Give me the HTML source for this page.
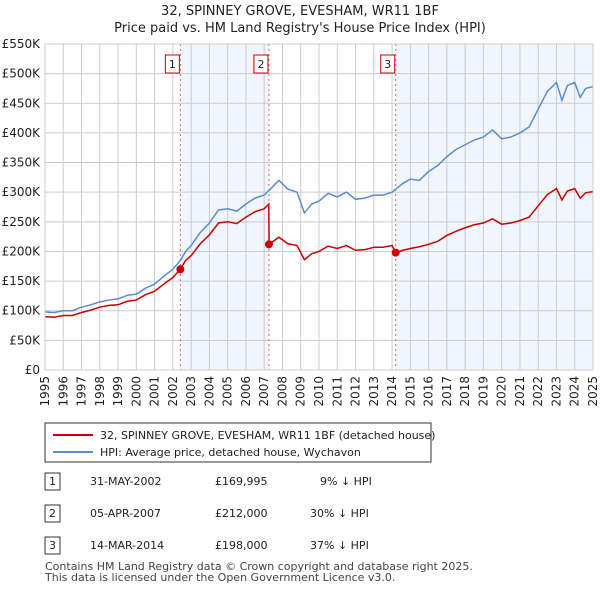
<!DOCTYPE html>
<html><head><meta charset="utf-8"><style>
body{margin:0;background:#fff;font-family:"Liberation Sans",sans-serif;}
svg text{font-family:"DejaVu Sans","Liberation Sans",sans-serif;}
</style></head><body>
<svg id="c" width="600" height="590" xmlns="http://www.w3.org/2000/svg">
<text x="300" y="15" text-anchor="middle" font-size="13" fill="#222">32, SPINNEY GROVE, EVESHAM, WR11 1BF</text>
<text x="300" y="32" text-anchor="middle" font-size="13" fill="#222">Price paid vs. HM Land Registry's House Price Index (HPI)</text>
<g id="plot"></g>
<g>
<rect x="45" y="423" width="386" height="39" fill="#fff" stroke="#333" stroke-width="1"/>
<line x1="53" y1="435" x2="93" y2="435" stroke="#cc0000" stroke-width="2"/>
<text x="100" y="439" font-size="11" fill="#222">32, SPINNEY GROVE, EVESHAM, WR11 1BF (detached house)</text>
<line x1="53" y1="452" x2="93" y2="452" stroke="#5b8bd0" stroke-width="2"/>
<text x="100" y="456" font-size="11" fill="#222">HPI: Average price, detached house, Wychavon</text>
</g>
<g font-size="11" fill="#222">
<rect x="45" y="473" width="15" height="17" fill="#fff" stroke="#333"/><text x="52.5" y="485" text-anchor="middle">1</text>
<text x="90" y="485">31-MAY-2002</text><text x="215" y="485">£169,995</text><text x="320" y="485">9% ↓ HPI</text>
<rect x="45" y="505" width="15" height="17" fill="#fff" stroke="#333"/><text x="52.5" y="517" text-anchor="middle">2</text>
<text x="90" y="517">05-APR-2007</text><text x="215" y="517">£212,000</text><text x="310" y="517">30% ↓ HPI</text>
<rect x="45" y="537" width="15" height="17" fill="#fff" stroke="#333"/><text x="52.5" y="549" text-anchor="middle">3</text>
<text x="90" y="549">14-MAR-2014</text><text x="215" y="549">£198,000</text><text x="310" y="549">37% ↓ HPI</text>
</g>
<text x="45" y="570" font-size="11" fill="#444">Contains HM Land Registry data © Crown copyright and database right 2025.</text>
<text x="45" y="581" font-size="11" fill="#444">This data is licensed under the Open Government Licence v3.0.</text>
</svg>
<script>
const years=[1995,1995.5,1996,1996.5,1997,1997.5,1998,1998.5,1999,1999.5,2000,2000.5,2001,2001.5,2002,2002.41,2002.7,2003,2003.5,2004,2004.5,2005,2005.5,2006,2006.5,2007,2007.25,2007.27,2007.8,2008.3,2008.8,2009.2,2009.6,2010,2010.5,2011,2011.5,2012,2012.5,2013,2013.5,2014,2014.2,2014.6,2015,2015.5,2016,2016.5,2017,2017.5,2018,2018.5,2019,2019.5,2020,2020.5,2021,2021.5,2022,2022.5,2023,2023.3,2023.6,2024,2024.3,2024.6,2025];
const hpi=[98,97,100,100,106,110,115,118,120,126,128,138,145,158,170,185,200,210,232,248,270,272,268,280,290,295,303,303,320,305,300,265,280,285,298,292,300,288,290,295,295,300,305,315,322,320,335,345,360,372,380,388,393,405,390,393,400,410,440,470,485,455,480,485,460,475,478];
const paid=[90,89,92,92,97,101,106,109,110,116,118,127,133,145,156,170,185,193,213,228,248,250,247,258,267,272,280,212,224,213,210,186,196,200,209,205,210,202,203,207,207,210,198,202,205,208,212,217,227,234,240,245,248,255,246,248,252,258,277,296,306,287,302,306,290,299,301];
const saleYears=[2002.41,2007.26,2014.2];
const salePrices=[170,212,198];
const saleLabels=["1","2","3"];
const yTicks=[0,50,100,150,200,250,300,350,400,450,500,550];
const yTickLabels=["£0","£50K","£100K","£150K","£200K","£250K","£300K","£350K","£400K","£450K","£500K","£550K"];
const xTicks=[];for(let y=1995;y<=2025;y++)xTicks.push(y);
const X0=45,X1=593,Y0=370,Y1=44;
const xs=v=>X0+(v-1995)/30*(X1-X0);
const ys=v=>Y0-v/550*(Y0-Y1);
const NS="http://www.w3.org/2000/svg";
const g=document.getElementById('plot');
function mk(t,a,p){const e=document.createElementNS(NS,t);for(const k in a)e.setAttribute(k,a[k]);(p||g).appendChild(e);return e;}
// shading
[[saleYears[0],saleYears[1]],[saleYears[2],2025]].forEach((s,i)=>{
 const r=mk('rect',{x:xs(s[0]),y:Y1,width:xs(s[1])-xs(s[0]),height:Y0-Y1,fill:'#eef3fd',opacity:0.8});
 
 
});
xTicks.forEach(t=>{
 const l=mk('line',{x1:xs(t),x2:xs(t),y1:Y1,y2:Y0,stroke:'#cccccc','stroke-width':1});
 
 
 const tx=mk('text',{x:0,y:0,'font-size':12,fill:'#222','text-anchor':'end',transform:`translate(${xs(t)+4},376) rotate(-90)`});
 tx.textContent=t;
 
 
});
yTicks.forEach((t,i)=>{
 const l=mk('line',{x1:X0,x2:X1,y1:ys(t),y2:ys(t),stroke:'#cccccc','stroke-width':1});
 
 
 const tx=mk('text',{x:40,y:ys(t)+4,'font-size':12,fill:'#222','text-anchor':'end'});
 tx.textContent=yTickLabels[i];
 
 
});
saleYears.forEach((s,i)=>{
 const l=mk('line',{x1:xs(s),x2:xs(s),y1:Y1,y2:Y0,stroke:'#e06060','stroke-width':1,'stroke-dasharray':'2,3'});
 
 
 const b=mk('rect',{x:xs(s)-15,y:55,width:14,height:18,fill:'#fff',stroke:'#cc0000'});
 
 
 const tx=mk('text',{x:xs(s)-8,y:68,'font-size':11,fill:'#222','text-anchor':'middle'});
 tx.textContent=saleLabels[i];
 
 
});
const hp=mk('polyline',{points:years.map((y,i)=>xs(y)+','+ys(hpi[i])).join(' '),fill:'none',stroke:'#5b8bd0','stroke-width':1.5});


const pp=mk('polyline',{points:years.map((y,i)=>xs(y)+','+ys(paid[i])).join(' '),fill:'none',stroke:'#cc0000','stroke-width':1.5});


saleYears.forEach((s,i)=>{
 const c=mk('circle',{cx:xs(s),cy:ys(salePrices[i]),r:4,fill:'#cc0000'});
 
 
});
const ax=mk('rect',{x:X0,y:Y1,width:X1-X0,height:Y0-Y1,fill:'none',stroke:'#cccccc'});


</script>
</body></html>
